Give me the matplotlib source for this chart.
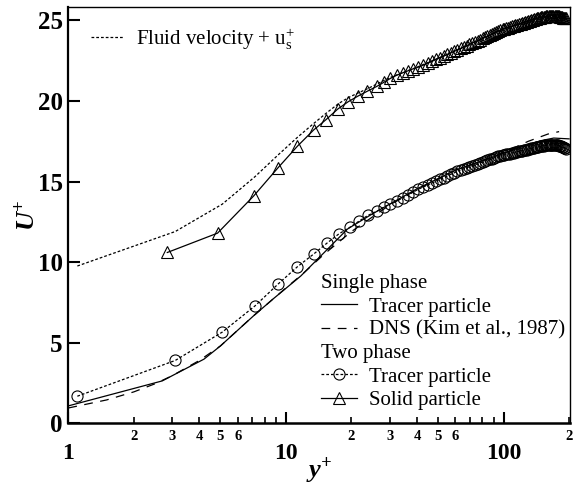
import matplotlib
matplotlib.use("Agg")
import matplotlib.pyplot as plt
from matplotlib.lines import Line2D
from matplotlib.ticker import FixedLocator, FixedFormatter

plt.rcParams['font.family'] = ['Liberation Serif', 'DejaVu Serif']
plt.rcParams['mathtext.fontset'] = 'stix'

# ---------------- data ----------------
grid_y = [1.1, 3.1, 5.1, 7.2, 9.2, 11.3, 13.4, 15.5, 17.5, 19.6,
          21.7, 23.8, 26.1, 28.1, 30.2, 32.3, 34.4, 36.5, 38.5, 40.6,
          42.7, 44.8, 46.9, 48.9, 51.0, 53.1, 55.2, 57.3, 59.3, 61.4,
          63.5, 65.6, 67.7, 69.7, 71.8, 73.9, 76.0, 78.1, 80.1, 82.2,
          84.3, 86.4, 88.5, 90.5, 92.6, 94.7, 96.8, 98.9, 100.9, 103.0,
          105.1, 107.2, 109.3, 111.3, 113.4, 115.5, 117.6, 119.7, 121.7, 123.8,
          125.9, 128.0, 130.1, 132.1, 134.2, 136.3, 138.4, 140.5, 142.5, 144.6,
          146.7, 148.8, 150.9, 152.9, 155.0, 157.1, 159.2, 161.3, 163.3, 165.4,
          167.5, 169.6, 171.7, 173.7, 175.8, 177.9, 180.0, 182.1, 184.1, 186.2,
          188.3, 190.4, 192.5, 194.5]

two_phase_tracer = [1.68, 3.9, 5.66, 7.28, 8.64, 9.72, 10.5, 11.2, 11.75, 12.15,
                    12.55, 12.9, 13.15, 13.4, 13.62, 13.8, 13.99, 14.18, 14.35, 14.52,
                    14.66, 14.79, 14.91, 15.02, 15.14, 15.24, 15.35, 15.45, 15.54, 15.64,
                    15.72, 15.79, 15.86, 15.92, 15.98, 16.04, 16.10, 16.16, 16.21, 16.26,
                    16.32, 16.37, 16.42, 16.47, 16.51, 16.56, 16.60, 16.63, 16.66, 16.69,
                    16.72, 16.74, 16.77, 16.80, 16.82, 16.85, 16.87, 16.90, 16.92, 16.95,
                    16.97, 16.99, 17.02, 17.04, 17.06, 17.08, 17.10, 17.12, 17.14, 17.16,
                    17.18, 17.20, 17.21, 17.22, 17.24, 17.25, 17.26, 17.27, 17.28, 17.29,
                    17.29, 17.29, 17.28, 17.27, 17.26, 17.25, 17.23, 17.21, 17.19, 17.17,
                    17.14, 17.11, 17.08, 17.05]

solid_y = [2.85, 4.85, 7.1, 9.2, 11.3, 13.4, 15.3, 17.3, 19.3,
           21.4, 23.6, 26.1, 28.1, 30.2, 32.3, 34.4, 36.5, 38.5, 40.6,
           42.7, 44.8, 46.9, 48.9, 51.0, 53.1, 55.2, 57.3, 59.3, 61.4,
           63.5, 65.6, 67.7, 69.7, 71.8, 73.9, 76.0, 78.1, 80.1, 82.2,
           84.3, 86.4, 88.5, 90.5, 92.6, 94.7, 96.8, 98.9, 100.9, 103.0,
           105.1, 107.2, 109.3, 111.3, 113.4, 115.5, 117.6, 119.7, 121.7, 123.8,
           125.9, 128.0, 130.1, 132.1, 134.2, 136.3, 138.4, 140.5, 142.5, 144.6,
           146.7, 148.8, 150.9, 152.9, 155.0, 157.1, 159.2, 161.3, 163.3, 165.4,
           167.5, 169.6, 171.7, 173.7, 175.8, 177.9, 180.0, 182.1, 184.1, 186.2,
           188.3, 190.4, 192.5, 194.5]

solid_particle = [10.6, 11.8, 14.1, 15.86, 17.2, 18.2, 18.85, 19.5, 19.95,
                  20.3, 20.6, 20.9, 21.15, 21.4, 21.6, 21.75, 21.88, 22.0, 22.1,
                  22.22, 22.35, 22.47, 22.58, 22.69, 22.79, 22.89, 22.99, 23.08, 23.17,
                  23.26, 23.35, 23.43, 23.51, 23.59, 23.67, 23.74, 23.81, 23.88, 23.95,
                  24.01, 24.08, 24.15, 24.20, 24.26, 24.33, 24.39, 24.44, 24.48, 24.52,
                  24.56, 24.59, 24.63, 24.66, 24.70, 24.73, 24.76, 24.80, 24.83, 24.86,
                  24.89, 24.92, 24.95, 24.98, 25.01, 25.04, 25.07, 25.09, 25.12, 25.15,
                  25.17, 25.20, 25.21, 25.23, 25.24, 25.26, 25.27, 25.28, 25.29, 25.30,
                  25.30, 25.30, 25.30, 25.29, 25.28, 25.27, 25.26, 25.24, 25.22, 25.20,
                  25.18, 25.16, 25.14, 25.12]

fluid_y = [1.1, 3.1, 5.1, 7.2, 9.2, 11.3, 13.4, 15.5, 17.5, 19.6, 24, 30, 40, 60, 100, 150, 195]
fluid_u = [9.76, 11.9, 13.6, 15.3, 16.65, 17.75, 18.6, 19.3, 19.85, 20.25, 20.8, 21.45,
           22.1, 23.1, 24.5, 25.22, 25.12]

single_y = [1.0, 2.7, 4.2, 5.0, 7.1, 8.7, 11.7, 15, 19.2, 25, 30, 40, 60, 100, 130, 150, 170, 200]
single_u = [1.08, 2.63, 3.98, 4.8, 6.67, 7.7, 9.14, 10.6, 12.06, 13.0, 13.6, 14.55, 15.7,
            16.75, 17.3, 17.55, 17.7, 17.65]

dns_y = [1.0, 1.5, 2.0, 2.5, 3, 4, 5, 7, 10, 12, 15, 20, 30, 40, 60, 100, 130, 160, 180]
dns_u = [0.95, 1.45, 1.95, 2.45, 2.95, 3.9, 4.8, 6.6, 8.4, 9.3, 10.5, 11.9, 13.55, 14.5,
         15.7, 16.8, 17.5, 17.95, 18.1]

minor_ticks = [2, 3, 4, 5, 6, 7, 8, 9, 20, 30, 40, 50, 60, 70, 80, 90, 200]
minor_labels = ['2', '3', '4', '5', '6', '', '', '', '2', '3', '4', '5', '6', '', '', '', '2']
major_ticks = [1, 10, 100]
major_labels = ['1', '10', '100']
y_ticks = [0, 5, 10, 15, 20, 25]

# ---------------- figure ----------------
fig = plt.figure(figsize=(5.86, 4.87), dpi=100)
ax = fig.add_axes([0.1166, 0.1308, 0.8561, 0.8554])

dot = (0, (2.2, 1.6))
lw = 0.9

ax.plot(fluid_y, fluid_u, color='black', lw=lw, linestyle=dot)
ax.plot(single_y, single_u, color='black', lw=lw, linestyle='-')
ax.plot(dns_y, dns_u, color='black', lw=lw, linestyle=(0, (7, 6)))
ax.plot(grid_y, two_phase_tracer, color='black', lw=lw, linestyle=dot,
        marker='o', markersize=8, markerfacecolor='none', markeredgewidth=0.8)
ax.plot(solid_y, solid_particle, color='black', lw=lw, linestyle='-',
        marker='^', markersize=8.5, markerfacecolor='none', markeredgewidth=0.8)

ax.set_xscale('log')
ax.set_xlim(1, 202)
ax.set_ylim(0, 25.85)

ax.xaxis.set_major_locator(FixedLocator(major_ticks))
ax.xaxis.set_major_formatter(FixedFormatter(major_labels))
ax.xaxis.set_minor_locator(FixedLocator(minor_ticks))
ax.xaxis.set_minor_formatter(FixedFormatter(minor_labels))
ax.set_yticks(y_ticks)
ax.set_yticklabels([str(v) for v in y_ticks])

ax.tick_params(axis='x', which='major', direction='in', length=8, width=1.5,
               pad=14, labelsize=17, top=False)
ax.tick_params(axis='x', which='minor', direction='in', length=4.5, width=1.2,
               pad=5, labelsize=10.5, top=False)
ax.tick_params(axis='y', which='major', direction='in', length=8.5, width=1.5,
               pad=4, labelsize=18, right=False)
ax.tick_params(axis='y', which='minor', left=False, right=False)
for lab in ax.get_xticklabels(which='both') + ax.get_yticklabels():
    lab.set_fontweight('bold')

ax.spines['left'].set_linewidth(1.6)
ax.spines['bottom'].set_linewidth(1.8)
ax.spines['top'].set_linewidth(1.0)
ax.spines['right'].set_linewidth(1.0)

ax.set_xlabel(r'y$^\mathregular{+}$', fontsize=19, fontweight='bold', style='italic', labelpad=-6)
ax.set_ylabel(r'U$^\mathregular{+}$', fontsize=19, fontweight='bold', style='italic')
ax.yaxis.set_label_coords(-0.055, 0.5)

# upper-left legend
h_fluid = Line2D([], [], color='black', lw=lw, linestyle=dot)
leg1 = ax.legend([h_fluid], [r'Fluid velocity + u$_\mathregular{s}^\mathregular{+}$'],
                 loc='upper left', bbox_to_anchor=(0.045, 0.953), frameon=False,
                 fontsize=15, handlelength=1.6, handletextpad=0.55, borderpad=0,
                 borderaxespad=0)
ax.add_artist(leg1)

# lower-right legend
blank = Line2D([], [], color='none')
h_single = Line2D([], [], color='black', lw=lw, linestyle='-')
h_dns = Line2D([], [], color='black', lw=lw, linestyle=(0, (7, 6)))
h_tp = Line2D([], [], color='black', lw=lw, linestyle=dot, marker='o', markersize=8,
              markerfacecolor='none', markeredgewidth=0.8)
h_sp = Line2D([], [], color='black', lw=lw, linestyle='-', marker='^', markersize=8.5,
              markerfacecolor='none', markeredgewidth=0.8)
leg2 = ax.legend([blank, h_single, h_dns, blank, h_tp, h_sp],
                 ['Single phase', 'Tracer particle', 'DNS (Kim et al., 1987)',
                  'Two phase', 'Tracer particle', 'Solid particle'],
                 loc='lower right', bbox_to_anchor=(0.99, 0.032), frameon=False,
                 fontsize=15, handlelength=1.75, handletextpad=0.55, borderpad=0,
                 borderaxespad=0, labelspacing=0.18, numpoints=1)
try:
    col = leg2._legend_handle_box.get_children()[0]
    for i, row in enumerate(col.get_children()):
        if i in (0, 3):
            da, tb = row.get_children()
            da.width = 0
            row.sep = 0
except Exception:
    pass

fig.savefig('out.png', dpi=100)
